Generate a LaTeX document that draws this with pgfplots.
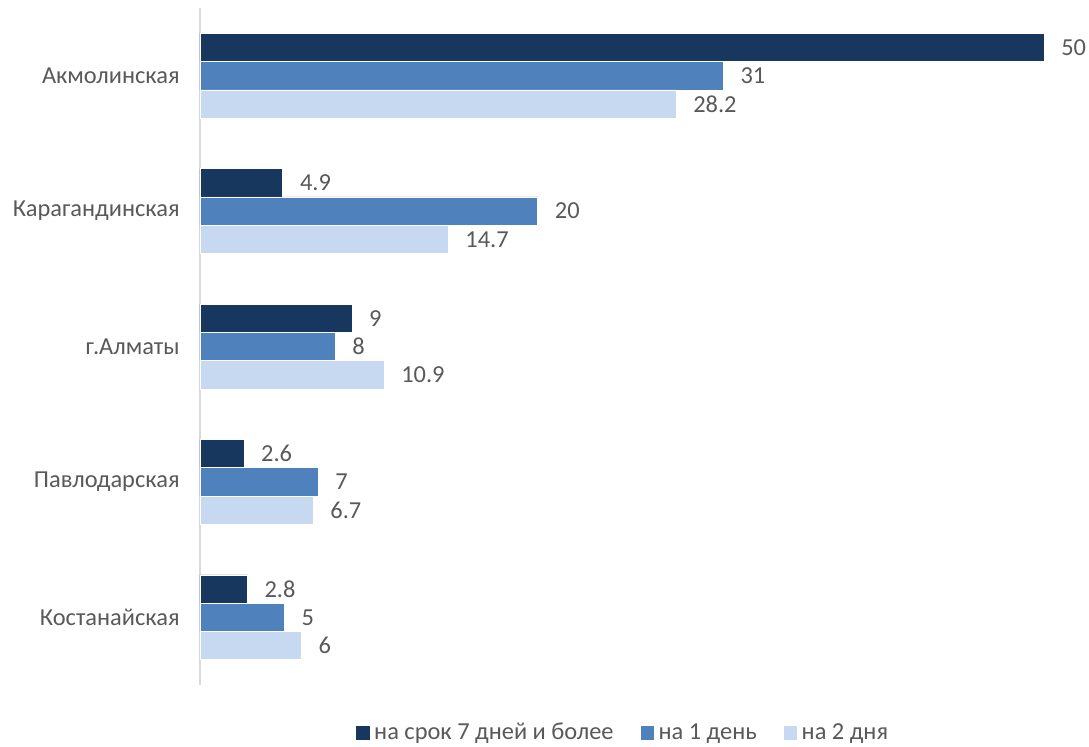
\documentclass[border=0pt]{standalone}
\usepackage{pgfplots}
\pgfplotsset{compat=1.18}
\usepackage{fontspec}
\setmainfont{Carlito}
\definecolor{c1}{HTML}{17375E}
\definecolor{c2}{HTML}{4F81BD}
\definecolor{c3}{HTML}{C6D9F1}
\definecolor{txt}{HTML}{595959}
\definecolor{axl}{HTML}{D9D9D9}
\newcommand\lbl{\fontsize{12.2pt}{15pt}\selectfont}
\begin{document}
\begin{tikzpicture}
\begin{axis}[
  at={(0,0)}, anchor=south west,
  scale only axis, width=422pt, height=338.5pt,
  xmin=0, xmax=50, ymin=-0.5, ymax=4.5,
  xbar, bar width=14.15pt,
  clip=false,
  separate axis lines,
  axis x line=none,
  axis y line=left,
  y axis line style={draw=axl, line width=1pt, -},
  xtick=\empty,
  ytick={0,1,2,3,4},
  yticklabels={Костанайская, Павлодарская, г.Алматы, Карагандинская, Акмолинская},
  major tick length=0pt,
  yticklabel style={font=\lbl, text=txt, inner sep=0pt, xshift=-10pt},
  point meta=explicit symbolic,
  nodes near coords,
  every node near coord/.append style={font=\lbl, text=txt, anchor=west, inner sep=0pt, xshift=8.5pt},
  legend columns=3,
  legend style={at={(0.502,0)}, anchor=center, yshift=-24pt, draw=none, font=\lbl, text=txt,
    /tikz/every even column/.append style={column sep=11pt}},
  legend image code/.code={\fill[#1] (0pt,-3.6pt) rectangle (7.2pt,3.6pt);},
]
\addplot[fill=c1, draw=white, line width=0.3pt, bar shift=14.15pt] coordinates {
  (50,4) [50] (4.9,3) [4.9] (9,2) [9] (2.6,1) [2.6] (2.8,0) [2.8]};
\addlegendentry{на срок 7 дней и более}
\addplot[fill=c2, draw=white, line width=0.3pt, bar shift=0pt] coordinates {
  (31,4) [31] (20,3) [20] (8,2) [8] (7,1) [7] (5,0) [5]};
\addlegendentry{на 1 день}
\addplot[fill=c3, draw=white, line width=0.3pt, bar shift=-14.15pt] coordinates {
  (28.2,4) [28.2] (14.7,3) [14.7] (10.9,2) [10.9] (6.7,1) [6.7] (6,0) [6]};
\addlegendentry{на 2 дня}
\end{axis}
\pgfresetboundingbox
\path (-100pt,-31pt) rectangle (444.5pt,342.5pt);
\end{tikzpicture}
\end{document}
